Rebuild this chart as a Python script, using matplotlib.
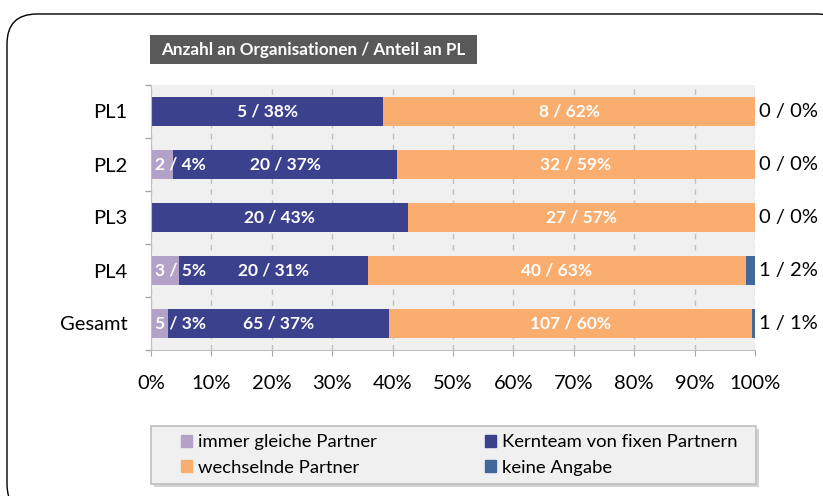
import numpy as np
import matplotlib
matplotlib.use("agg")
import matplotlib.pyplot as plt
from matplotlib.patches import FancyBboxPatch, Rectangle, Patch

plt.rcParams["font.family"] = ["Lato", "DejaVu Sans"]

# Data: number of organisations per answer
categories = ["PL1", "PL2", "PL3", "PL4", "Gesamt"]
series = ["immer gleiche Partner", "Kernteam von fixen Partnern",
          "wechselnde Partner", "keine Angabe"]
immer = [0, 2, 0, 3, 5]
kern = [5, 20, 20, 20, 65]
wechselnd = [8, 32, 27, 40, 107]
keine = [0, 0, 0, 1, 1]
colors = ["#B2A2C7", "#3C418E", "#F9AD6E", "#41679B"]
xticks = [0, 10, 20, 30, 40, 50, 60, 70, 80, 90, 100]

counts = np.array([immer, kern, wechselnd, keine], dtype=float)
shares = counts / counts.sum(axis=0)

W, H = 823, 496
fig = plt.figure(figsize=(W / 100, H / 100), dpi=100)

# background frame, title box and legend box (pixel coordinates)
bg = fig.add_axes([0, 0, 1, 1], zorder=-1)
bg.set_xlim(0, W)
bg.set_ylim(H, 0)
bg.axis("off")
bg.add_patch(FancyBboxPatch((7, 14), 840, 500, boxstyle="round,pad=0,rounding_size=30",
                            fc="white", ec="black", lw=1.0))
bg.add_patch(Rectangle((150, 35), 327, 29, fc="#595959", ec="none"))
bg.text(313.5, 50, "Anzahl an Organisationen / Anteil an PL", color="white",
        fontsize=12.3, fontweight="bold", ha="center", va="center")
bg.add_patch(Rectangle((154, 429), 605, 58, fc="#D4D4D4", ec="none"))
bg.add_patch(Rectangle((151, 426), 605, 58, fc="#F0F0F0", ec="#BFBFBF", lw=1.2))

ax = fig.add_axes([151 / W, 1 - 350 / H, 604 / W, 265 / H])
ax.set_facecolor("#F0F0F0")

y = np.arange(len(categories))
left = np.zeros(len(categories))
for i, (name, col) in enumerate(zip(series, colors)):
    w = shares[i]
    ax.barh(y, w, left=left, height=0.53, color=col, label=name, zorder=2)
    for j in range(len(categories)):
        pct = int(np.floor(w[j] * 100 + 0.5))
        lbl = f"{int(counts[i, j])} / {pct}%"
        if i == 3:
            ax.text(1.007, y[j], lbl, ha="left", va="center", fontsize=14.5,
                    color="black", clip_on=False)
        elif counts[i, j] > 0:
            if w[j] < 0.1:
                ax.text(left[j] + 0.006, y[j], lbl, ha="left", va="center",
                        fontsize=12.5, fontweight="bold", color="white", zorder=3)
            else:
                ax.text(left[j] + w[j] / 2, y[j], lbl, ha="center", va="center",
                        fontsize=12.5, fontweight="bold", color="white", zorder=3)
    left += w

ax.set_xlim(0, 1)
ax.set_ylim(len(categories) - 0.5, -0.5)
ax.set_xticks(np.array(xticks) / 100)
ax.set_xticklabels([f"{t}%" for t in xticks])
ax.set_yticks(y)
ax.set_yticklabels(categories)
ax.set_yticks(np.arange(-0.5, len(categories)), minor=True)
ax.tick_params(axis="y", which="major", length=0, pad=17, labelsize=14.5)
ax.tick_params(axis="y", which="minor", length=4, color="#A6A6A6", width=1)
ax.tick_params(axis="x", length=4, color="#A6A6A6", pad=14, labelsize=14.5)
ax.xaxis.grid(True, ls=(0, (4, 4)), color="#BFBFBF", lw=1, zorder=1)
ax.set_axisbelow(True)
for s in ["top", "right"]:
    ax.spines[s].set_visible(False)
for s in ["left", "bottom"]:
    ax.spines[s].set_color("#BFBFBF")

# legend: two columns placed inside the drawn box
handles = [Patch(color=c, label=s) for s, c in zip(series, colors)]
for cols, x0 in [([0, 2], 181), ([1, 3], 485)]:
    leg = fig.legend([handles[k] for k in cols], [series[k] for k in cols],
                     loc="center left", bbox_to_anchor=(x0 / W, 1 - 455 / H),
                     fontsize=13.3, frameon=False,
                     handlelength=0.6, handleheight=0.6, handletextpad=0.3,
                     borderpad=0, labelspacing=0.5, borderaxespad=0)

fig.savefig("out.png", dpi=100)
